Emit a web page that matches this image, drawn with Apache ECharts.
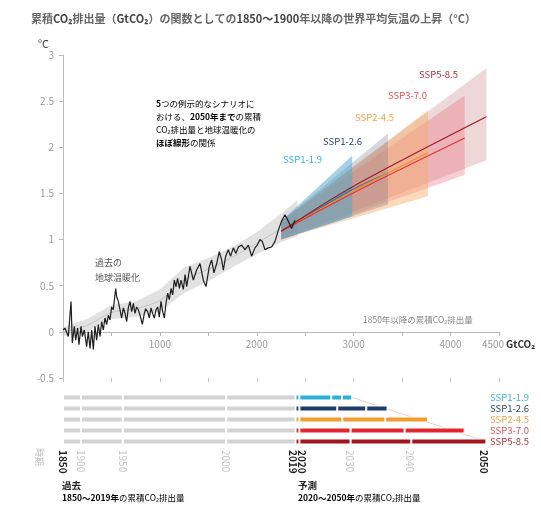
<!DOCTYPE html>
<html><head><meta charset="utf-8">
<script src="https://cdn.jsdelivr.net/npm/echarts@6/dist/echarts.min.js"></script>
<style>html,body{margin:0;padding:0;background:#fff}#c{width:541px;height:506px}</style>
</head><body><div id="c"></div>
<script>
// ---------- DATA ----------
// Historical: cumulative CO2 emissions since 1850 (GtCO2) vs warming (°C)
const histEmis = [0,21,55,83,96,117,131,151,165,186,200,220,244,261,279,296,313,330,347,365,382,399,416,433,451,468,485,502,519,544,554,571,588,605,623,640,657,674,691,709,726,743,760,777,795,819,839,853,874,891,908,925,943,960,977,994,1011,1029,1046,1063,1080,1097,1115,1132,1149,1166,1183,1201,1218,1242,1260,1276,1311,1345,1379,1414,1448,1476,1510,1534,1558,1586,1613,1637,1655,1679,1706,1730,1758,1785,1809,1844,1878,1913,1947,1981,2005,2033,2057,2085,2119,2153,2188,2222,2256,2291,2325,2359,2394];
const histTemp = [0.02,0.04,-0.05,0.33,-0.12,0.06,-0.09,0.04,-0.14,0.06,-0.05,0.02,-0.16,0.0,-0.18,0.02,-0.19,0.06,-0.09,0.08,-0.05,0.11,0.02,0.15,0.08,0.18,0.13,0.27,0.24,0.47,0.38,0.33,0.24,0.15,0.26,0.2,0.11,0.26,0.33,0.22,0.31,0.2,0.27,0.24,0.18,0.08,0.2,0.25,0.22,0.15,0.26,0.2,0.15,0.24,0.27,0.16,0.33,0.22,0.15,0.31,0.42,0.35,0.47,0.4,0.56,0.49,0.58,0.47,0.56,0.46,0.62,0.49,0.71,0.56,0.67,0.74,0.56,0.49,0.71,0.78,0.64,0.74,0.87,0.78,0.67,0.82,0.89,0.82,0.91,0.85,0.92,0.94,0.89,0.94,0.82,0.91,0.94,1.0,0.98,0.89,0.91,0.92,0.98,1.1,1.2,1.27,1.2,1.12,1.21];
// Historical likely range band and its central line
const bandEmis = [0,250,500,750,1000,1250,1500,1750,2000,2250,2420];
const bandLow  = [-0.05,0.0,0.14,0.16,0.22,0.42,0.55,0.7,0.84,0.97,1.04];
const bandHigh = [0.05,0.14,0.29,0.33,0.46,0.7,0.8,0.92,1.08,1.28,1.43];
const bandMid  = [0,0.07,0.21,0.25,0.34,0.56,0.68,0.81,0.96,1.12,1.23];
// Scenarios
const scenarios = ['SSP1-1.9','SSP1-2.6','SSP2-4.5','SSP3-7.0','SSP5-8.5'];
const fanStart = 2252, fanStartLow = 1.0, fanStartHigh = 1.2, fanStartMid = 1.09;
const fanEnd     = [2985,3354,3767,4146,4370];
const fanEndLow  = [1.25,1.38,1.47,1.70,1.86];
const fanEndHigh = [1.91,2.15,2.40,2.56,2.86];
const medMidEmis = 2985;
const medMid     = [1.56,1.54,1.52,1.50,1.57];
const medEnd     = [1.56,1.72,1.94,2.10,2.33];
// Timeline (cumulative GtCO2 at period boundaries)
const pastCum  = [0,186,617,1684,2400];          // 1850,1900,1950,2000,2019
const cum2020  = 2440;
const cum2030  = [2769,2831,2882,2968,2968];
const cum2040  = [2879,3130,3326,3526,3595];
const cum2050  = [2985,3350,3767,4146,4370];
const yearTickVals   = [0,186,617,1684,2375,2465,2955,3581,4338];
const yearTickLabels = ['1850','1900','1950','2000','2019','2020','2030','2040','2050'];
const yearBold       = ['1850','2019','2020','2050'];
// x axis tick labels shown
const xLabelVals = [1000,2000,3000,4000,4500];

// ---------- STYLE / LAYOUT ----------
const FONT = '"Noto Sans CJK JP","Noto Sans",sans-serif';
const barColors  = ['#2bb1d6','#1e3a68','#f29b30','#e2262f','#a2151c'];
const lineColors = ['rgba(40,160,210,0.6)','rgba(40,60,100,0.55)','#ef8f2a','#e0343a','#9a1f2a'];
const fanFill = ['rgba(75,165,205,0.5)','rgba(95,100,130,0.26)','rgba(246,172,104,0.45)','rgba(232,100,118,0.32)','rgba(204,140,142,0.35)'];
const textColors = ['#3ab2d8','#2c4468','#efa24a','#d9505a','#a8343c'];
const Y_MIN = -0.5, Y_MAX = 3, G_TOP = 55, G_H = 323;
const zeroOffset = -(0 - Y_MIN) / (Y_MAX - Y_MIN) * G_H;

const chart = echarts.init(document.getElementById('c'), null, {renderer:'canvas'});

const histPts = histEmis.map((e,i)=>[e,histTemp[i]]);
const midPts = bandEmis.map((e,i)=>[e,bandMid[i]]);

const stackSeries = [];
for (let k=0;k<pastCum.length-1;k++){
  stackSeries.push({type:'bar', xAxisIndex:2, yAxisIndex:1, stack:'t', barWidth:6,
    data: scenarios.map(()=>pastCum[k+1]-pastCum[k]),
    itemStyle:{color:'#d3d3d3', borderColor:'#fff', borderWidth:1}, silent:true});
}
const futBounds = scenarios.map((s,i)=>[pastCum[pastCum.length-1], cum2020, cum2030[i], cum2040[i], cum2050[i]]);
for (let k=0;k<4;k++){
  stackSeries.push({type:'bar', xAxisIndex:2, yAxisIndex:1, stack:'t', barWidth:6,
    data: scenarios.map((s,i)=>({value: futBounds[i][k+1]-futBounds[i][k], itemStyle:{color:barColors[i]}})),
    itemStyle:{borderColor:'#fff', borderWidth:1}, silent:true});
}

const medianSeries = scenarios.map((s,i)=>{
  const pts = [[fanStart,fanStartMid]];
  if (fanEnd[i] > medMidEmis) pts.push([medMidEmis, medMid[i]]);
  pts.push([fanEnd[i], medEnd[i]]);
  return {type:'line', xAxisIndex:0, yAxisIndex:0, data:pts, symbol:'none', smooth:0.3,
    lineStyle:{color:lineColors[i], width:1.2}, z:5, silent:true};
});

const option = {
  animation:false,
  backgroundColor:'#fff',
  textStyle:{fontFamily:FONT},
  title:{
    left:26, top:8,
    text:'{n|累積}{b|CO₂}{n|排出量（}{b|GtCO₂}{n|）の関数としての}{b|1850～1900}{n|年以降の世界平均気温の上昇（°C）}',
    textStyle:{rich:{
      n:{fontFamily:FONT,fontSize:11,color:'#666'},
      b:{fontFamily:FONT,fontSize:11,color:'#444',fontWeight:'bold'}
    }}
  },
  grid:[
    {left:63, top:G_TOP, width:436, height:G_H, containLabel:false, outerBoundsMode:'none'},
    {left:63, top:392, width:436, height:55, containLabel:false, outerBoundsMode:'none'}
  ],
  xAxis:[
    {gridIndex:0, type:'value', min:0, max:4500, interval:500, position:'bottom', offset:zeroOffset,
      axisLine:{show:true, onZero:false, lineStyle:{color:'#b4b4b4', width:1}},
      axisTick:{show:true, length:4, lineStyle:{color:'#b4b4b4'}},
      splitLine:{show:false},
      axisLabel:{color:'#9a9a9a', fontSize:10, margin:7, fontFamily:FONT,
        formatter:v=> v===4500 ? '{e|4500}' : (xLabelVals.indexOf(v)>=0 ? String(v) : ''),
        rich:{e:{fontFamily:FONT,fontSize:10,color:'#9a9a9a',padding:[0,12,0,0]}}}},
    {gridIndex:0, type:'value', min:0, max:4500, interval:500, position:'bottom', offset:0,
      axisLine:{show:false, onZero:false}, axisTick:{show:true, length:4, lineStyle:{color:'#c4c4c4'}},
      axisLabel:{show:false}, splitLine:{show:false}},
    {gridIndex:1, type:'value', min:0, max:4500, position:'bottom',
      axisLine:{show:false, onZero:false}, axisTick:{show:false}, splitLine:{show:false},
      axisLabel:{show:true, customValues:yearTickVals, rotate:-90, margin:3,
        formatter:v=>{ const idx=yearTickVals.indexOf(v); if(idx<0) return ''; const l=yearTickLabels[idx];
          return yearBold.indexOf(l)>=0 ? '{b|'+l+'}' : '{n|'+l+'}'; },
        rich:{b:{fontFamily:FONT,fontSize:10,fontWeight:'bold',color:'#222'},
              n:{fontFamily:FONT,fontSize:10,color:'#c4c4c4'}}}}
  ],
  yAxis:[
    {gridIndex:0, type:'value', min:Y_MIN, max:Y_MAX, interval:0.5,
      axisLine:{show:true, onZero:false, lineStyle:{color:'#bcbcbc'}},
      axisTick:{show:true, length:4, lineStyle:{color:'#bcbcbc'}},
      splitLine:{show:false},
      axisLabel:{color:'#9a9a9a', fontSize:10, margin:9, fontFamily:FONT}},
    {gridIndex:1, type:'category', data:scenarios, inverse:true, show:false}
  ],
  graphic:[
    {type:'text', x:38, y:38, style:{text:'°C', font:'11px '+FONT, fill:'#333'}},
    {type:'text', x:156, y:97, style:{
      text:'{b|5}{n|つの例示的なシナリオに}\n{n|おける、}{b|2050年まで}{n|の累積}\n{n|CO₂排出量と地球温暖化の}\n{b|ほぼ線形}{n|の関係}',
      rich:{n:{fontFamily:FONT,fontSize:8.5,color:'#555',lineHeight:13},
            b:{fontFamily:FONT,fontSize:8.5,color:'#222',fontWeight:'bold',lineHeight:13}}}},
    {type:'text', x:95, y:255, style:{text:'過去の\n地球温暖化', font:'9px '+FONT, fill:'#555', lineHeight:15}},
    {type:'text', x:363, y:316, style:{text:'1850年以降の累積CO₂排出量', font:'8.5px '+FONT, fill:'#888'}},
    {type:'text', x:506, y:339, style:{text:'GtCO₂', font:'bold 10px '+FONT, fill:'#333'}},
    {type:'text', x:283, y:155, style:{text:'SSP1-1.9', font:'9.5px '+FONT, fill:textColors[0]}},
    {type:'text', x:323, y:137, style:{text:'SSP1-2.6', font:'9.5px '+FONT, fill:textColors[1]}},
    {type:'text', x:355, y:113, style:{text:'SSP2-4.5', font:'9.5px '+FONT, fill:textColors[2]}},
    {type:'text', x:388, y:91, style:{text:'SSP3-7.0', font:'9.5px '+FONT, fill:textColors[3]}},
    {type:'text', x:419, y:70, style:{text:'SSP5-8.5', font:'9.5px '+FONT, fill:textColors[4]}},
    ...scenarios.map((s,i)=>({type:'text', x:490, y:392+11*i+5.5, style:{text:s, font:'9.5px '+FONT, fill:textColors[i], verticalAlign:'middle'}})),
    {type:'text', x:44, y:448, rotation:-Math.PI/2, style:{text:'時期', font:'9px '+FONT, fill:'#bbb'}},
    {type:'text', x:62, y:481, style:{text:'過去', font:'bold 9.5px '+FONT, fill:'#222'}},
    {type:'text', x:62, y:494, style:{text:'{b|1850～2019年}{n|の累積CO₂排出量}',
      rich:{b:{fontFamily:FONT,fontSize:8.5,fontWeight:'bold',color:'#222'},n:{fontFamily:FONT,fontSize:8.5,color:'#999'}}}},
    {type:'text', x:298, y:481, style:{text:'予測', font:'bold 9.5px '+FONT, fill:'#222'}},
    {type:'text', x:298, y:494, style:{text:'{b|2020～2050年}{n|の累積CO₂排出量}',
      rich:{b:{fontFamily:FONT,fontSize:8.5,fontWeight:'bold',color:'#222'},n:{fontFamily:FONT,fontSize:8.5,color:'#999'}}}}
  ],
  series:[
    {type:'custom', xAxisIndex:0, yAxisIndex:0, data:[[0,0]], silent:true, z:1,
      renderItem:(params, api)=>{
        const pts = bandEmis.map((e,i)=>api.coord([e,bandLow[i]]));
        for (let i=bandEmis.length-1;i>=0;i--) pts.push(api.coord([bandEmis[i],bandHigh[i]]));
        return {type:'polygon', shape:{points:pts}, style:{fill:'rgba(200,200,200,0.55)'}};
      }},
    {type:'line', xAxisIndex:0, yAxisIndex:0, data:midPts, symbol:'none', smooth:0.3,
      lineStyle:{color:'#bdbdbd', width:0.8}, z:2, silent:true,
      markLine:{silent:true, symbol:'none', label:{show:false}, animation:false,
        lineStyle:{color:'#b8b8b8', type:'solid', width:1}, data:[{yAxis:0}]}},
    {type:'custom', xAxisIndex:0, yAxisIndex:0, silent:true, z:3,
      data: scenarios.map((s,i)=>[fanEnd[i], fanEndLow[i], fanEndHigh[i], i]).reverse(),
      renderItem:(params, api)=>{
        const i = api.value(3);
        const pts = [api.coord([fanStart,fanStartLow]), api.coord([api.value(0),api.value(1)]),
                     api.coord([api.value(0),api.value(2)]), api.coord([fanStart,fanStartHigh])];
        return {type:'polygon', shape:{points:pts}, style:{fill:fanFill[i]}};
      }},
    ...medianSeries,
    {type:'line', xAxisIndex:0, yAxisIndex:0, data:histPts, symbol:'none',
      lineStyle:{color:'#1e1e1e', width:1.2}, z:6, silent:true},
    ...stackSeries,
    {type:'line', xAxisIndex:2, yAxisIndex:1, data:[[cum2050[0],0],[cum2050[4],4]], symbol:'none',
      lineStyle:{color:'rgba(215,150,150,0.6)', width:0.8}, z:1, silent:true}
  ]
};
chart.setOption(option);
</script>
</body></html>
